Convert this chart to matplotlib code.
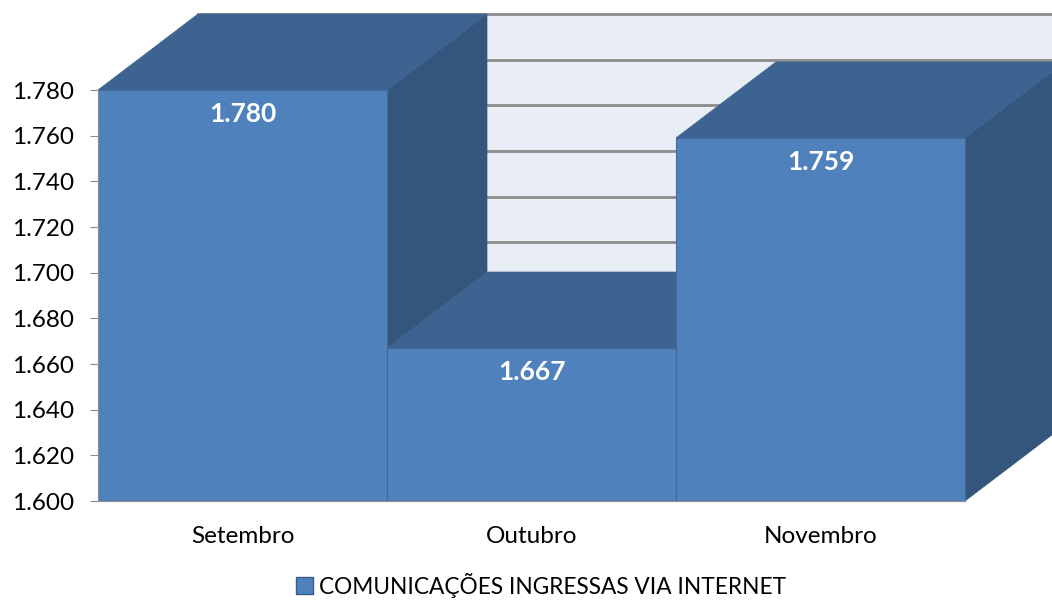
import matplotlib
matplotlib.use("Agg")
import matplotlib.pyplot as plt
from matplotlib.patches import Polygon, Rectangle, Patch

months = ["Setembro", "Outubro", "Novembro"]
values = [1780, 1667, 1759]
yticks = [1600, 1620, 1640, 1660, 1680, 1700, 1720, 1740, 1760, 1780]
series_name = "COMUNICAÇÕES INGRESSAS VIA INTERNET"

front_c = "#4F81BD"
top_c = "#3D6390"
side_c = "#34557C"
wall_c = "#E9EDF5"
grid_c = "#8C8C8C"

plt.rcParams["font.family"] = ["Lato", "DejaVu Sans"]


def br(v):
    return f"{v:,}".replace(",", ".")


fig = plt.figure(figsize=(10.52, 6), dpi=100)
ax = fig.add_axes([98 / 1052, 99 / 600, 954 / 1052, 501 / 600])

ymin, ymax = 1600, 1780
dx = 100 / 289          # depth offset, category units
dy = 76 / 411 * (ymax - ymin)   # depth offset, value units

ax.set_xlim(-0.5, -0.5 + 954 / 289)
ax.set_ylim(ymin, ymin + 501 / 411 * (ymax - ymin))

# back wall with gridlines
x0, x1 = -0.5 + dx, len(values) - 0.5 + dx
ax.add_patch(Rectangle((x0, ymin + dy), x1 - x0, ymax - ymin, facecolor=wall_c,
                       edgecolor="#B0B0B0", lw=0.8, zorder=1))
for t in yticks[1:]:
    ax.plot([x0, x1], [t + dy, t + dy], color=grid_c, lw=2, zorder=2)

# bars, left to right
for i, v in enumerate(values):
    side = [(i + .5, ymin), (i + .5, v), (i + .5 + dx, v + dy), (i + .5 + dx, ymin + dy)]
    top = [(i - .5, v), (i - .5 + dx, v + dy), (i + .5 + dx, v + dy), (i + .5, v)]
    ax.add_patch(Polygon(side, closed=True, facecolor=side_c, edgecolor=side_c, lw=0.5, zorder=3))
    ax.add_patch(Polygon(top, closed=True, facecolor=top_c, edgecolor=top_c, lw=0.5, zorder=3))
    ax.add_patch(Rectangle((i - .5, ymin), 1, v - ymin, facecolor=front_c,
                           edgecolor="#41699A", lw=0.8, zorder=4))
    ax.annotate(br(v), (i, v), xytext=(0, -17), textcoords="offset points",
                ha="center", va="center", color="white", fontsize=19,
                fontweight="bold", zorder=5)

for s in ["top", "right"]:
    ax.spines[s].set_visible(False)
ax.spines["left"].set_bounds(ymin, ymax)
ax.spines["bottom"].set_bounds(-0.5, len(values) - 0.5)
ax.spines["left"].set_color("#8C8C8C")
ax.spines["bottom"].set_color("#8C8C8C")
ax.spines["left"].set_zorder(6)
ax.spines["bottom"].set_zorder(6)

ax.set_yticks(yticks)
ax.set_yticklabels([br(t) for t in yticks], fontsize=17.5)
ax.tick_params(axis="y", length=6, color="#8C8C8C", pad=11)
ax.set_xticks(range(len(months)))
ax.set_xticklabels(months, fontsize=17.5)
ax.tick_params(axis="x", length=0, pad=18)

fig.legend(handles=[Patch(facecolor=front_c, edgecolor="#385D8A", lw=1)],
           labels=[series_name], loc="center", bbox_to_anchor=(541 / 1052, 15 / 600),
           frameon=False, fontsize=16.3, handlelength=0.75, handleheight=0.75,
           handletextpad=0.3)

fig.savefig("out.png", dpi=100)
